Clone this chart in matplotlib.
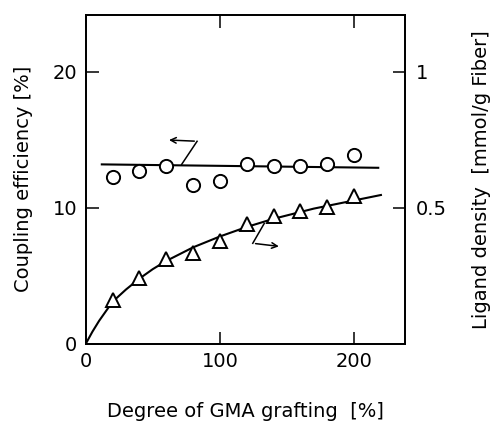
import matplotlib
matplotlib.use("Agg")
import matplotlib.pyplot as plt

# degree of GMA grafting [%]
graft = [20, 40, 60, 80, 100, 120, 140, 160, 180, 200]
# coupling efficiency [%]  (circles, left axis)
coupling = [12.25, 12.75, 13.1, 11.7, 12.0, 13.2, 13.05, 13.1, 13.2, 13.9]
# ligand density [mmol/g Fiber]  (triangles, right axis)
ligand = [0.160, 0.244, 0.314, 0.336, 0.377, 0.440, 0.470, 0.488, 0.505, 0.542]

# flat line through the circles
flat_x = [12, 218]
flat_y = [13.2, 12.95]

# smooth curve through the triangles
curve_x = [0, 5, 10, 20, 30, 40, 50, 60, 70, 80, 90, 100, 110, 120, 130,
           140, 150, 160, 170, 180, 190, 200, 210, 220]
curve_y = [0, 0.045, 0.085, 0.155, 0.200, 0.240, 0.275, 0.305, 0.330, 0.355,
           0.375, 0.395, 0.4125, 0.430, 0.445, 0.460, 0.4725, 0.485, 0.4975,
           0.5075, 0.5175, 0.5275, 0.5375, 0.5475]

fig = plt.figure(figsize=(4.94, 4.22), dpi=100)
ax = fig.add_axes([0.1735, 0.185, 0.6465, 0.78])
ax2 = ax.twinx()

ax.plot(flat_x, flat_y, color='black', lw=1.5)
ax.plot(graft, coupling, 'o', ms=9.5, mfc='white', mec='black', mew=1.4)

ax2.plot(curve_x, curve_y, color='black', lw=1.5)
ax2.plot(graft, ligand, '^', ms=10, mfc='white', mec='black', mew=1.4)

# zigzag arrows pointing to each axis
ax.plot([71.5, 83], [13.2, 14.9], color='black', lw=1.1)
ax.annotate('', xy=(60, 15.0), xytext=(83, 14.9),
            arrowprops=dict(arrowstyle='->', color='black', lw=1.1))
ax.plot([133, 124.5], [8.85, 7.4], color='black', lw=1.1)
ax.annotate('', xy=(146, 7.15), xytext=(124.5, 7.4),
            arrowprops=dict(arrowstyle='->', color='black', lw=1.1))

ax.set_xlim(0, 238)
ax.set_ylim(0, 24.2)
ax2.set_ylim(0, 24.2 / 20)

ax.set_xticks([0, 100, 200])
ax.set_yticks([0, 10, 20])
ax2.set_yticks([0.5, 1])
ax2.set_yticklabels(['0.5', '1'])

ax.tick_params(direction='in', length=9, width=1.1, labelsize=14, pad=6,
               top=True, right=False)
ax2.tick_params(direction='in', length=9, width=1.1, labelsize=14, pad=8)

for a in (ax, ax2):
    for s in a.spines.values():
        s.set_linewidth(1.3)

ax.set_ylabel('Coupling efficiency [%]', fontsize=14, labelpad=14)
ax2.set_ylabel('Ligand density  [mmol/g Fiber]', fontsize=14, labelpad=18)
ax.set_xlabel('Degree of GMA grafting  [%]', fontsize=14, labelpad=22)

fig.savefig('out.png', dpi=100)
